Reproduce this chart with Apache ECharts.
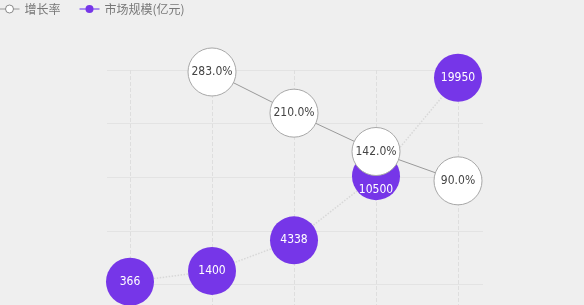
<!DOCTYPE html>
<html><head><meta charset="utf-8">
<script src="https://cdn.jsdelivr.net/npm/echarts@6/dist/echarts.min.js"></script>
<style>html,body{margin:0;padding:0;background:#efefef;}#c{width:584px;height:305px;}</style>
</head><body><div id="c"></div>
<script>
var categories = ['2016', '2017', '2018', '2019', '2020'];
var marketSize = [366, 1400, 4338, 10500, 19950];
var growthRate = ['-', 283, 210, 142, 90];
var gridBands = [0, 1, 2, 3, 4, 5];

var chart = echarts.init(document.getElementById('c'));
var PURPLE = '#7636e8';
var NUM_FONT = "'Liberation Sans Narrow', 'DejaVu Sans Condensed', sans-serif";
chart.setOption({
  backgroundColor: '#efefef',
  animation: false,
  legend: {
    left: -6, top: -2, itemWidth: 20, itemHeight: 10, itemGap: 18,
    textStyle: { fontSize: 12, color: '#777', fontFamily: 'Noto Sans CJK SC' },
    data: [
      { name: '增长率', itemStyle: { color: '#fff', borderColor: '#888', borderWidth: 1 }, lineStyle: { color: '#999', width: 1, type: 'solid' } },
      { name: '市场规模(亿元)', itemStyle: { color: PURPLE }, lineStyle: { color: '#a98cf0', width: 2, type: 'solid' } }
    ]
  },
  grid: [
    { left: 107, right: 101, top: 70, height: 268, outerBoundsMode: 'none', containLabel: false },
    { left: 130, right: 126, top: 70, height: 268, outerBoundsMode: 'none', containLabel: false }
  ],
  xAxis: [
    { gridIndex: 0, type: 'value', show: false },
    { gridIndex: 1, type: 'category', data: categories, boundaryGap: false,
      axisLine: { show: false }, axisTick: { show: false }, axisLabel: { show: false },
      splitLine: { show: true, lineStyle: { color: '#dedede', type: 'dashed', width: 1 } } }
  ],
  yAxis: [
    { gridIndex: 0, type: 'value', min: gridBands[0], max: gridBands[gridBands.length - 1], interval: 1,
      axisLine: { show: false }, axisTick: { show: false }, axisLabel: { show: false },
      splitLine: { show: true, lineStyle: { color: '#e3e3e3', width: 1 } } },
    { gridIndex: 1, type: 'value', min: -5042, max: 20697, show: false, splitLine: { show: false } },
    { gridIndex: 1, type: 'value', min: -188.6, max: 286.5, show: false, splitLine: { show: false } }
  ],
  series: [
    {
      name: '市场规模(亿元)', type: 'line', xAxisIndex: 1, yAxisIndex: 1, data: marketSize,
      symbol: 'circle', symbolSize: 48, z: 2, showSymbol: true, showAllSymbol: true,
      itemStyle: { color: PURPLE },
      lineStyle: { color: '#d8d8d8', width: 1.5, type: 'dotted' },
      label: { show: true, position: 'inside', color: '#fff', fontSize: 12, fontFamily: NUM_FONT },
      labelLayout: function (p) { return p.dataIndex === 3 ? { dy: 14 } : {}; }
    },
    {
      name: '增长率', type: 'line', xAxisIndex: 1, yAxisIndex: 2, data: growthRate,
      symbol: 'circle', symbolSize: 48, z: 3, showSymbol: true, showAllSymbol: true,
      itemStyle: { color: '#fff', borderColor: '#a8a8a8', borderWidth: 1 },
      lineStyle: { color: '#9a9a9a', width: 1 },
      label: { show: true, position: 'inside', color: '#444', fontSize: 12, fontFamily: NUM_FONT,
        formatter: function (p) { return Number(p.value).toFixed(1) + '%'; } }
    }
  ]
});
</script></body></html>
